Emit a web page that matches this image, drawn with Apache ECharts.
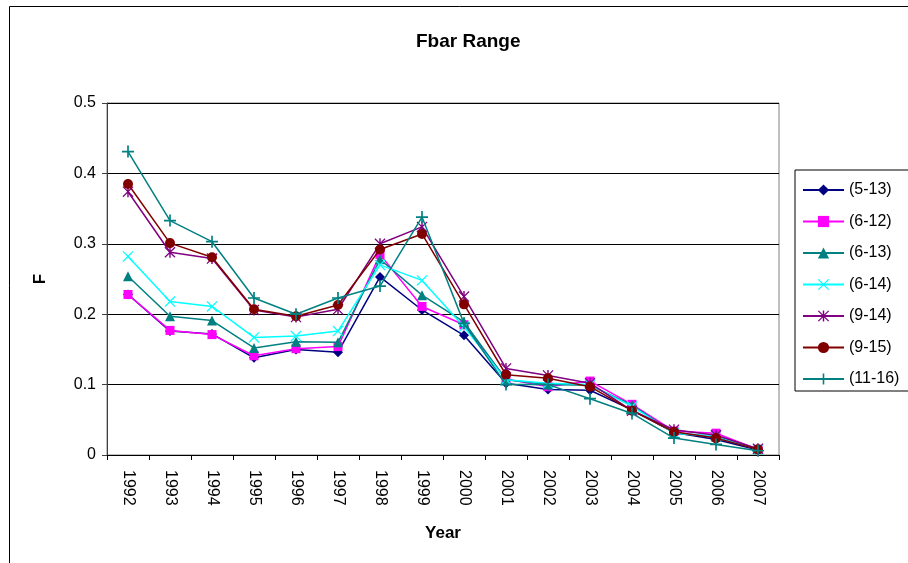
<!DOCTYPE html>
<html>
<head>
<meta charset="utf-8">
<script src="https://cdn.jsdelivr.net/npm/echarts@6/dist/echarts.min.js"></script>
<style>
html,body{margin:0;padding:0;background:#fff;}
#c{width:908px;height:563px;}
</style>
</head>
<body>
<div id="c"></div>
<script>
var years = ['1992','1993','1994','1995','1996','1997','1998','1999','2000','2001','2002','2003','2004','2005','2006','2007'];
var yTicks = [0, 0.1, 0.2, 0.3, 0.4, 0.5];
var seriesNames = ['(5-13)','(6-12)','(6-13)','(6-14)','(9-14)','(9-15)','(11-16)'];
var s5_13  = [0.228,0.176,0.172,0.138,0.150,0.146,0.253,0.206,0.170,0.102,0.093,0.092,0.064,0.032,0.022,0.007];
var s6_12  = [0.228,0.177,0.171,0.141,0.151,0.154,0.285,0.211,0.185,0.108,0.097,0.105,0.072,0.034,0.031,0.008];
var s6_13  = [0.254,0.197,0.191,0.152,0.161,0.160,0.278,0.227,0.189,0.107,0.100,0.099,0.071,0.031,0.026,0.008];
var s6_14  = [0.282,0.218,0.211,0.167,0.169,0.176,0.270,0.248,0.182,0.107,0.102,0.100,0.069,0.031,0.027,0.008];
var s9_14  = [0.374,0.288,0.279,0.206,0.196,0.207,0.300,0.324,0.225,0.123,0.113,0.102,0.063,0.036,0.028,0.009];
var s9_15  = [0.385,0.301,0.281,0.207,0.197,0.213,0.292,0.314,0.214,0.114,0.109,0.097,0.063,0.033,0.024,0.008];
var s11_16 = [0.431,0.333,0.303,0.223,0.200,0.223,0.240,0.338,0.187,0.100,0.100,0.080,0.059,0.024,0.015,0.006];

var FONT = '"Liberation Sans", Arial, sans-serif';
var plusPath = 'path://M4.3,0 L5.7,0 L5.7,4.3 L10,4.3 L10,5.7 L5.7,5.7 L5.7,10 L4.3,10 L4.3,5.7 L0,5.7 L0,4.3 L4.3,4.3 Z';
var xPath = 'path://M0,0.8 L0.8,0 L10,9.2 L9.2,10 Z M9.2,0 L10,0.8 L0.8,10 L0,9.2 Z';
var starPath = 'path://M0,0.8 L0.8,0 L10,9.2 L9.2,10 Z M9.2,0 L10,0.8 L0.8,10 L0,9.2 Z M4.35,0 L5.65,0 L5.65,10 L4.35,10 Z';

var defs = [
  {data: s5_13,  color: '#000080', symbol: 'diamond',  size: 10},
  {data: s6_12,  color: '#FF00FF', symbol: 'rect',     size: 9},
  {data: s6_13,  color: '#008080', symbol: 'triangle', size: 10},
  {data: s6_14,  color: '#00FFFF', symbol: xPath,      size: 11},
  {data: s9_14,  color: '#800080', symbol: starPath,   size: 11},
  {data: s9_15,  color: '#800000', symbol: 'circle',   size: 10},
  {data: s11_16, color: '#008080', symbol: plusPath,   size: 12}
];

var series = defs.map(function(d, i){
  return {
    name: seriesNames[i],
    type: 'line',
    data: d.data,
    symbol: d.symbol,
    symbolSize: d.size,
    showAllSymbol: true,
    animation: false,
    lineStyle: {color: d.color, width: 1.5},
    itemStyle: {color: d.color, borderWidth: 0},
    emphasis: {disabled: true},
    z: 2 + i
  };
});

var chart = echarts.init(document.getElementById('c'), null, {renderer: 'canvas'});
chart.setOption({
  animation: false,
  backgroundColor: '#fff',
  title: {
    text: 'Fbar Range',
    left: 416,
    top: 32,
    padding: 0,
    textStyle: {fontFamily: FONT, fontSize: 19, fontWeight: 'bold', color: '#000'}
  },
  legend: {
    orient: 'vertical',
    left: 795,
    top: 170,
    padding: [12, 20, 4, 7],
    itemWidth: 41,
    itemHeight: 14,
    itemGap: 15.5,
    borderColor: '#000',
    borderWidth: 1,
    borderRadius: 0,
    data: seriesNames,
    textStyle: {fontFamily: FONT, fontSize: 16, color: '#000'}
  },
  grid: {
    left: 107, right: 129, top: 103, bottom: 108,
    show: true, borderColor: '#808080', borderWidth: 1, backgroundColor: '#fff'
  },
  xAxis: {
    type: 'category',
    data: years,
    boundaryGap: true,
    name: 'Year',
    nameLocation: 'middle',
    nameGap: 70,
    nameTextStyle: {fontFamily: FONT, fontSize: 17, fontWeight: 'bold', color: '#000'},
    axisLine: {lineStyle: {color: '#000', width: 1}},
    axisTick: {show: true, alignWithLabel: false, length: 5, lineStyle: {color: '#000'}},
    axisLabel: {rotate: -90, margin: 15, fontFamily: FONT, fontSize: 16, color: '#000', interval: 0},
    splitLine: {show: false}
  },
  yAxis: {
    type: 'value',
    min: yTicks[0],
    max: yTicks[yTicks.length - 1],
    interval: 0.1,
    name: 'F',
    nameLocation: 'middle',
    nameGap: 58,
    nameRotate: 90,
    nameTextStyle: {fontFamily: FONT, fontSize: 17, fontWeight: 'bold', color: '#000'},
    axisLine: {show: true, lineStyle: {color: '#404040', width: 1}},
    axisTick: {show: true, length: 5, lineStyle: {color: '#404040'}},
    axisLabel: {margin: 11, fontFamily: FONT, fontSize: 16, color: '#000'},
    splitLine: {show: true, lineStyle: {color: '#000', width: 1}}
  },
  graphic: [{
    type: 'rect',
    shape: {x: 9.5, y: 6.5, width: 1000, height: 1000},
    style: {fill: null, stroke: '#000', lineWidth: 1},
    silent: true,
    z: -1
  }],
  series: series
});
</script>
</body>
</html>
